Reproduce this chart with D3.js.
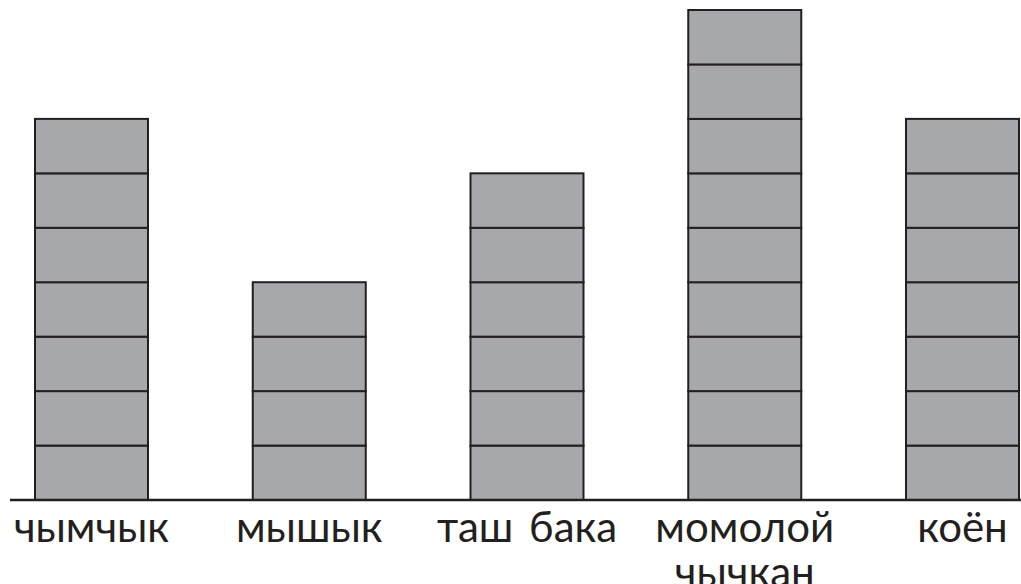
<!DOCTYPE html>
<html><head><meta charset="utf-8">
<script src="https://cdn.jsdelivr.net/npm/d3@7"></script>
<style>html,body{margin:0;padding:0;background:#fff;overflow:hidden}</style>
</head><body>
<svg id="c" width="1021" height="584"></svg>
<script>
const categories = ["чымчык", "мышык", "таш бака", "момолой чычкан", "коён"];
const labelLines = [["чымчык"], ["мышык"], ["таш бака"], ["момолой", "чычкан"], ["коён"]];
const values = [7, 4, 6, 9, 7];

const svg = d3.select("#c");
const x = d3.scalePoint().domain(categories).range([91.5, 962.5]);
const y = d3.scaleLinear().domain([0, 9]).range([500, 10]);
const barW = 113;

const g = svg.append("g");
categories.forEach((c, i) => {
  g.selectAll(null).data(d3.range(values[i])).enter().append("rect")
    .attr("x", x(c) - barW / 2)
    .attr("y", d => y(d + 1))
    .attr("width", barW)
    .attr("height", d => y(d) - y(d + 1))
    .attr("fill", "#a7a8ab")
    .attr("stroke", "#231f20")
    .attr("stroke-width", 2);
});

svg.append("line").attr("x1", 10).attr("x2", 1021).attr("y1", y(0)).attr("y2", y(0))
  .attr("stroke", "#231f20").attr("stroke-width", 2.4);

const t = svg.selectAll(".lbl").data(categories).enter().append("text")
  .attr("class", "lbl")
  .attr("text-anchor", "middle")
  .attr("font-family", "Lato, 'Open Sans', sans-serif")
  .attr("font-size", 42)
  .attr("word-spacing", 5)
  .attr("fill", "#231f20");
t.each(function(c, i) {
  const el = d3.select(this);
  labelLines[i].forEach((ln, k) => {
    el.append("tspan").attr("x", x(c)).attr("y", 542 + k * 45).text(ln);
  });
});
</script>
</body></html>
